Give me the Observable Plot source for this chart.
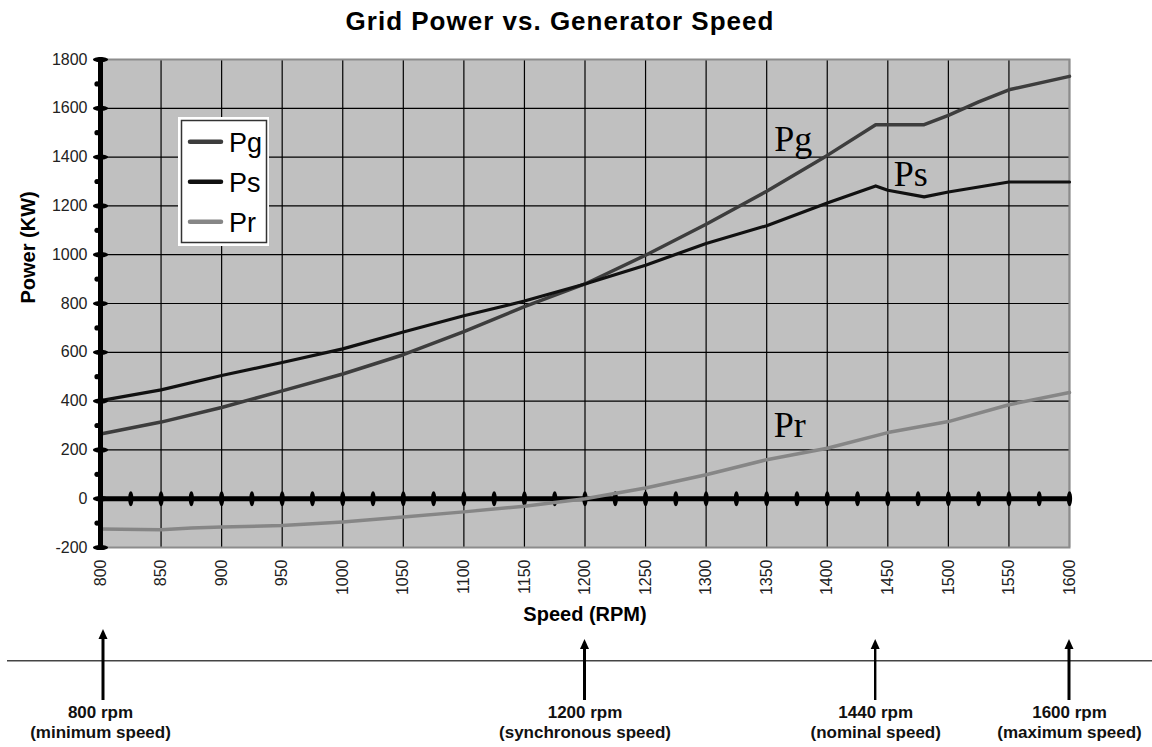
<!DOCTYPE html>
<html>
<head>
<meta charset="utf-8">
<script src="https://cdn.jsdelivr.net/npm/d3@7"></script>
<script src="https://cdn.jsdelivr.net/npm/@observablehq/plot@0.6"></script>
<style>
  html, body { margin: 0; padding: 0; background: #fff; }
  body { width: 1152px; height: 747px; overflow: hidden; }
  #title {
    height: 44px; line-height: 44px; text-align: center; padding-right: 32px;
    font: bold 26px "Liberation Sans", Arial, sans-serif; letter-spacing: 1px; color: #000;
  }
  #title span { position: relative; top: 6px; }
</style>
</head>
<body>
<div id="title"><span>Grid Power vs. Generator Speed</span></div>
<div id="chart"></div>
<script>
// ---- data ----
const speedTicks = [800, 850, 900, 950, 1000, 1050, 1100, 1150, 1200, 1250, 1300, 1350, 1400, 1450, 1500, 1550, 1600];
const speedMinorTicks = [800, 825, 850, 875, 900, 925, 950, 975, 1000, 1025, 1050, 1075, 1100, 1125, 1150, 1175, 1200, 1225, 1250, 1275, 1300, 1325, 1350, 1375, 1400, 1425, 1450, 1475, 1500, 1525, 1550, 1575, 1600];
const powerTicks = [-200, 0, 200, 400, 600, 800, 1000, 1200, 1400, 1600, 1800];
const powerMinorTicks = [-100, 100, 300, 500, 700, 900, 1100, 1300, 1500, 1700];

const seriesNames = ["Pg", "Ps", "Pr"];

const pgSpeed = [800, 850, 900, 950, 1000, 1050, 1100, 1150, 1200, 1250, 1300, 1350, 1400, 1440, 1480, 1500, 1525, 1550, 1600];
const pgPower = [265, 314, 374, 442, 511, 590, 685, 787, 880, 998, 1125, 1260, 1407, 1533, 1533, 1571, 1626, 1676, 1731];

const psSpeed = [800, 850, 900, 950, 1000, 1050, 1100, 1150, 1200, 1250, 1300, 1350, 1400, 1440, 1450, 1480, 1500, 1550, 1600];
const psPower = [402, 446, 505, 558, 614, 683, 750, 810, 880, 957, 1046, 1119, 1212, 1282, 1264, 1237, 1257, 1298, 1298];

const prSpeed = [800, 850, 875, 900, 950, 1000, 1050, 1100, 1150, 1200, 1250, 1300, 1350, 1400, 1450, 1500, 1550, 1600];
const prPower = [-124, -127, -120, -116, -110, -95, -75, -54, -31, 0, 44, 98, 160, 207, 271, 316, 385, 435];

// in-plot curve labels (data coordinates)
const curveLabelText = ["Pg", "Ps", "Pr"];
const curveLabelSpeed = [1372, 1469, 1369];
const curveLabelPower = [1473, 1330, 299];

// marked speeds under the chart
const markerSpeeds = [800, 1200, 1440, 1600];
const markerNames = ["(minimum speed)", "(synchronous speed)", "(nominal speed)", "(maximum speed)"];

// ---- styling ----
const colors = {Pg: "#3d3d3d", Ps: "#111111", Pr: "#868686"};
const FONT = "'Liberation Sans', Arial, sans-serif";

const toRows = (xs, ys, name) => xs.map((s, i) => ({speed: s, power: ys[i], series: name}));
const pgRows = toRows(pgSpeed, pgPower, "Pg");
const psRows = toRows(psSpeed, psPower, "Ps");
const prRows = toRows(prSpeed, prPower, "Pr");
const curveLabels = curveLabelText.map((t, i) => ({text: t, speed: curveLabelSpeed[i], power: curveLabelPower[i]}));

// custom symbols (pixel sized)
function ellipsePath(ctx, rx, ry) {
  const k = 0.5523;
  ctx.moveTo(0, -ry);
  ctx.bezierCurveTo(k * rx, -ry, rx, -k * ry, rx, 0);
  ctx.bezierCurveTo(rx, k * ry, k * rx, ry, 0, ry);
  ctx.bezierCurveTo(-k * rx, ry, -rx, k * ry, -rx, 0);
  ctx.bezierCurveTo(-rx, -k * ry, -k * rx, -ry, 0, -ry);
  ctx.closePath();
}
const vTick = {draw(ctx) { ellipsePath(ctx, 2.6, 7.5); }};
const hTick = {draw(ctx) { ellipsePath(ctx, 7.5, 2.6); }};

// legend drawn inside the frame
function legendMark(index, scales, values, dims) {
  const g = d3.create("svg:g").attr("font-family", FONT).attr("text-anchor", "start");
  const x0 = dims.marginLeft + 78, y0 = dims.marginTop + 58;
  g.append("rect").attr("x", x0).attr("y", y0).attr("width", 91).attr("height", 129).attr("fill", "#fff");
  g.append("rect").attr("x", x0 + 3.5).attr("y", y0 + 3.5).attr("width", 85).attr("height", 122)
    .attr("fill", "none").attr("stroke", "#333").attr("stroke-width", 1.5);
  seriesNames.forEach((name, i) => {
    const ly = y0 + 24.7 + i * 40;
    g.append("line").attr("x1", x0 + 12).attr("x2", x0 + 43).attr("y1", ly).attr("y2", ly)
      .attr("stroke", colors[name]).attr("stroke-width", 4.5).attr("stroke-linecap", "round");
    g.append("text").attr("x", x0 + 51).attr("y", ly + 10.5).attr("font-size", 27).attr("fill", "#000")
      .attr("text-anchor", "start").text(name);
  });
  return g.node();
}

// baseline + arrows below the chart
function speedArrows(index, scales, values, dims) {
  const g = d3.create("svg:g");
  const yb = dims.height - dims.marginBottom;
  g.append("line").attr("x1", 7).attr("x2", dims.width).attr("y1", yb + 113.7).attr("y2", yb + 113.7)
    .attr("stroke", "#444").attr("stroke-width", 1.6);
  markerSpeeds.forEach((s, i) => {
    const px = scales.x(s) + (i === 0 ? 3 : 0);
    const top = yb + (i === 0 ? 82 : 92);
    const bottom = yb + 153;
    g.append("line").attr("x1", px).attr("x2", px).attr("y1", top + 6).attr("y2", bottom)
      .attr("stroke", "#000").attr("stroke-width", i === 2 ? 2.4 : 3);
    g.append("path").attr("d", `M${px - 4.5},${top + 10}L${px},${top}L${px + 4.5},${top + 10}Z`).attr("fill", "#000");
  });
  return g.node();
}

const chart = Plot.plot({
  width: 1152,
  height: 703,
  marginLeft: 100,
  marginRight: 83,
  marginTop: 15,
  marginBottom: 200,
  style: {fontFamily: FONT, background: "#fff", overflow: "visible"},
  x: {domain: [800, 1600], label: null},
  y: {domain: [-200, 1800], label: null},
  marks: [
    Plot.frame({fill: "#c0c0c0", stroke: null}),
    Plot.gridX(speedTicks, {stroke: "#000", strokeOpacity: 1, strokeWidth: 1.2}),
    Plot.gridY(powerTicks, {stroke: "#000", strokeOpacity: 1, strokeWidth: 1.2}),
    Plot.frame({stroke: "#8c8c8c", strokeWidth: 2}),
    // axes lines
    Plot.ruleY([0], {stroke: "#000", strokeWidth: 5}),
    Plot.dot(speedMinorTicks, {x: d => d, y: () => 0, symbol: vTick, fill: "#000", stroke: null}),
    // curves
    Plot.line(prRows, {x: "speed", y: "power", stroke: colors.Pr, strokeWidth: 3.5}),
    Plot.line(pgRows, {x: "speed", y: "power", stroke: colors.Pg, strokeWidth: 3.5}),
    Plot.line(psRows, {x: "speed", y: "power", stroke: colors.Ps, strokeWidth: 3.2}),
    Plot.ruleX([800], {stroke: "#000", strokeWidth: 5}),
    Plot.dot(powerTicks, {x: () => 800, y: d => d, symbol: hTick, fill: "#000", stroke: null}),
    Plot.dot(powerMinorTicks, {x: () => 800, y: d => d, r: 2.6, dx: -3.5, fill: "#000", stroke: null}),
    // tick labels
    Plot.axisY(powerTicks, {tickSize: 0, tickPadding: 13, fontSize: 16, color: "#222", label: null, tickFormat: d => String(d)}),
    Plot.axisX(speedTicks, {tickSize: 0, tickPadding: 12, tickRotate: -90, fontSize: 16, color: "#222", label: null, tickFormat: d => String(d)}),
    // axis titles
    Plot.text(["Power (KW)"], {text: d => d, frameAnchor: "left", dx: -72, rotate: -90, fontSize: 20, fontWeight: "bold", fill: "#000"}),
    Plot.text(["Speed (RPM)"], {text: d => d, frameAnchor: "bottom", dy: 73, fontSize: 20, fontWeight: "bold", fill: "#000"}),
    // curve labels
    Plot.text(curveLabels, {x: "speed", y: "power", text: "text", fontSize: 36, fontFamily: "'Liberation Serif', 'Times New Roman', serif", fill: "#000"}),
    legendMark,
    speedArrows,
    Plot.text(markerSpeeds, {
      x: d => d,
      text: (d, i) => `${d} rpm\n${markerNames[i]}`,
      frameAnchor: "bottom", dy: 190, lineAnchor: "bottom", lineHeight: 1.12,
      fontSize: 17, fontWeight: "bold", fill: "#111"
    })
  ]
});
document.getElementById("chart").appendChild(chart);
</script>
</body>
</html>
